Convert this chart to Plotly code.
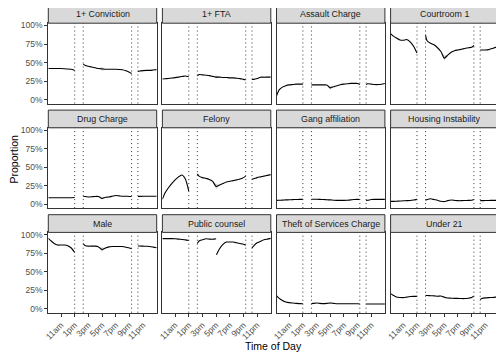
import plotly.graph_objects as go

# The page body has an 8px margin, so the figure is drawn 8px in from the window edge.
OFF = 8
W, H = 504 - OFF, 360 - OFF

panel_names = ["1+ Conviction", "1+ FTA", "Assault Charge", "Courtroom 1",
               "Drug Charge", "Felony", "Gang affiliation", "Housing Instability",
               "Male", "Public counsel", "Theft of Services Charge", "Under 21"]

hours_am = [9.14, 9.5, 10, 10.5, 11, 11.5, 12, 12.5, 13]
hours_pm = [14.25, 14.5, 15, 15.5, 16, 16.5, 17, 17.5, 18, 18.5, 19, 19.5, 20, 20.5, 21, 21.33]
hours_night = [22.25, 22.5, 23, 23.5, 24, 24.5, 25]
hours_pm_early = [14.25, 14.5, 15, 15.5, 16, 16.5, 17]
hours_pm_late = [17.05, 17.5, 18, 18.5, 19, 19.5, 20, 20.5, 21, 21.33]
break_hours = [13.0, 14.25, 21.33, 22.25]

x_tick_vals = [11, 13, 15, 17, 19, 21, 23]
x_tick_text = ["11am", "1pm", "3pm", "5pm", "7pm", "9pm", "11pm"]
y_tick_vals = [0, 25, 50, 75, 100]
y_tick_text = ["0%", "25%", "50%", "75%", "100%"]

conviction_am = [42, 42, 42, 42, 42, 41.8, 41.5, 41, 39.5]
conviction_pm = [48, 46.5, 45, 44, 43, 42, 41.5, 41, 41, 41, 41, 40.8, 40.5, 39, 37, 35.5]
conviction_night = [38, 38.7, 39.2, 39.5, 39.5, 40, 40.5]

fta_am = [28, 28.3, 28.7, 29.2, 29.8, 30.5, 31.3, 32, 31]
fta_pm = [32, 34, 33.5, 33, 32.5, 31.5, 30.5, 30.5, 30, 30, 29.5, 29.5, 29, 28.5, 27.5, 27]
fta_night = [27.5, 27.5, 28.5, 30.4, 30.4, 30.5, 30.5]

assault_am = [5, 13, 17, 19, 20, 20.5, 21, 21, 21]
assault_pm = [20, 20, 20, 20, 20, 19.8, 16, 17.5, 19, 20.3, 21, 21.5, 22, 22, 22, 20.5]
assault_night = [20.5, 21.5, 21, 20.5, 20.5, 21, 22]

courtroom_am = [89, 86, 83, 80.5, 80, 81, 78, 72, 63]
courtroom_pm = [87, 79, 76, 74, 70, 65, 56, 60, 64, 66, 67, 68, 69, 70, 70.5, 73]
courtroom_night = [67, 67, 67, 67.5, 69, 70.5, 71.5]

drug_am = [9, 9, 9, 9, 9, 9, 9, 9, 9.2]
drug_pm = [11, 10.5, 10, 10.3, 10.7, 10.5, 8, 9.5, 10, 11, 12, 11.5, 11, 11, 10.7, 10.7]
drug_night = [10.7, 10.8, 11, 11, 11, 11, 11]

felony_am = [7, 15, 22, 28, 33, 37, 39.5, 34, 18]
felony_pm = [41, 38, 36, 35, 33.5, 31, 24, 26, 28, 30, 31, 32, 33, 34, 36, 38]
felony_night = [34, 34.5, 36, 37, 38, 39, 40]

gang_am = [5.4, 5.5, 5.7, 6, 6.2, 6.4, 6.6, 6.7, 6.7]
gang_pm = [7, 7, 7, 6.8, 6.5, 6.2, 6, 5.6, 5.4, 5.4, 5.4, 5.6, 6, 6.5, 6.7, 6.5]
gang_night = [5.4, 5.6, 6.5, 6.7, 6.7, 6.7, 6.7]

housing_am = [4, 4, 4.2, 4.5, 4.8, 5, 5.2, 5.8, 6.7]
housing_pm = [5.4, 6.5, 7.5, 6.5, 5.5, 4.2, 3.8, 5, 5.8, 5.4, 5, 5, 5.2, 5.4, 5.6, 6.5]
housing_night = [5, 5, 5.2, 5.3, 5.4, 5.4, 5.4]

male_am = [95, 92, 88, 86, 86, 86, 85, 82, 76]
male_pm = [88, 85.5, 84.5, 84.5, 84.5, 83.5, 80, 82, 83.5, 84, 84, 84, 84, 83, 82, 81]
male_night = [84.7, 84.7, 84.5, 84.3, 84, 83.2, 82.4]

counsel_am = [94.6, 94.6, 94.6, 94.6, 94.4, 94, 93.5, 93, 92]
counsel_pm_early = [88, 91.5, 93, 94.5, 94, 93.8, 94.5]
counsel_pm_late = [73, 81, 87, 90, 90, 90, 89, 88, 87, 85.6]
counsel_night = [82, 85, 89, 91, 93, 94, 95]

theft_am = [18, 14.5, 11.5, 9.5, 8.5, 8, 7.5, 7.2, 7]
theft_pm = [7.2, 7.5, 8, 7.5, 7.2, 7.5, 8, 7.5, 7, 7, 7, 7, 7, 7, 7, 6.8]
theft_night = [6.8, 6.8, 6.8, 6.8, 6.8, 6.8, 6.8]

under21_am = [20.7, 18.5, 16, 15.5, 15.3, 16, 16.7, 17, 17]
under21_pm = [18.5, 18.2, 17.8, 17.6, 17.2, 17.5, 15.8, 14.8, 14.5, 14.3, 14.2, 14, 14, 14.5, 15.5, 17]
under21_night = [12.6, 14, 14.9, 15.3, 15.5, 16, 17]

# grey uncertainty wedge around 5pm (half-width, percentage points)
ribbon_hours = [16.5, 17.0, 17.5]
ribbon_halfwidth = [2.5, 2.0, 2.5, 3.5, 1.5, 3.5, 0.0, 0.0, 3.0, 0.0, 1.0, 1.5]

segments = [
    [(hours_am, conviction_am), (hours_pm, conviction_pm), (hours_night, conviction_night)],
    [(hours_am, fta_am), (hours_pm, fta_pm), (hours_night, fta_night)],
    [(hours_am, assault_am), (hours_pm, assault_pm), (hours_night, assault_night)],
    [(hours_am, courtroom_am), (hours_pm, courtroom_pm), (hours_night, courtroom_night)],
    [(hours_am, drug_am), (hours_pm, drug_pm), (hours_night, drug_night)],
    [(hours_am, felony_am), (hours_pm, felony_pm), (hours_night, felony_night)],
    [(hours_am, gang_am), (hours_pm, gang_pm), (hours_night, gang_night)],
    [(hours_am, housing_am), (hours_pm, housing_pm), (hours_night, housing_night)],
    [(hours_am, male_am), (hours_pm, male_pm), (hours_night, male_night)],
    [(hours_am, counsel_am), (hours_pm_early, counsel_pm_early),
     (hours_pm_late, counsel_pm_late), (hours_night, counsel_night)],
    [(hours_am, theft_am), (hours_pm, theft_pm), (hours_night, theft_night)],
    [(hours_am, under21_am), (hours_pm, under21_pm), (hours_night, under21_night)],
]

# layout geometry (window pixels, converted to figure pixels by OFF)
col_left0, col_w, col_step = 48.3 - OFF, 108.4, 114.1
row_top0, strip_h, panel_h, row_step = 5.5 - OFF, 17.7, 80.3, 104.6

fig = go.Figure()
layout = dict(width=W, height=H, margin=dict(l=0, r=0, t=0, b=0),
              paper_bgcolor="white", plot_bgcolor="white", showlegend=False,
              font=dict(family="Liberation Sans, Arial, sans-serif"))
shapes, annotations = [], []


def px(v):
    return min(1.0, max(0.0, v / W))


def py(v):
    return min(1.0, max(0.0, 1 - v / H))


for i, name in enumerate(panel_names):
    r, c = divmod(i, 4)
    left = col_left0 + c * col_step
    right = left + col_w
    stop = row_top0 + r * row_step
    sbot = stop + strip_h
    pbot = sbot + panel_h
    xa = "x" if i == 0 else f"x{i+1}"
    ya = "y" if i == 0 else f"y{i+1}"
    xkey = "xaxis" if i == 0 else f"xaxis{i+1}"
    ykey = "yaxis" if i == 0 else f"yaxis{i+1}"
    bottom_row = (r == 2)
    first_col = (c == 0)
    layout[xkey] = dict(domain=[px(left), px(right)], anchor=ya, range=[9.14, 25.0],
                        showline=True, mirror=True, linecolor="#333333", linewidth=1,
                        showgrid=False, zeroline=False, automargin=False,
                        tickvals=x_tick_vals, ticktext=x_tick_text,
                        showticklabels=bottom_row, ticks="outside" if bottom_row else "",
                        ticklen=3, tickwidth=1, tickcolor="#333333", tickangle=-45,
                        tickfont=dict(size=8.5, color="#4D4D4D"))
    layout[ykey] = dict(domain=[py(pbot), py(sbot)], anchor=xa, range=[-5, 103],
                        showline=True, mirror=True, linecolor="#333333", linewidth=1,
                        showgrid=False, zeroline=False, automargin=False,
                        tickvals=y_tick_vals, ticktext=y_tick_text,
                        showticklabels=first_col, ticks="outside" if first_col else "",
                        ticklen=3, tickwidth=1, tickcolor="#333333",
                        tickfont=dict(size=8.5, color="#4D4D4D"))
    shapes.append(dict(type="rect", xref="paper", yref="paper",
                       x0=left / W, x1=right / W, y0=1 - sbot / H, y1=1 - stop / H,
                       fillcolor="#D9D9D9", line=dict(color="#333333", width=1), layer="above"))
    annotations.append(dict(text=name, xref="paper", yref="paper",
                            x=(left + right) / 2 / W, y=1 - (stop + sbot) / 2 / H,
                            xanchor="center", yanchor="middle", showarrow=False,
                            font=dict(size=8.9, color="#1A1A1A")))
    for bh in break_hours:
        shapes.append(dict(type="line", xref=xa, yref=f"{ya} domain", x0=bh, x1=bh, y0=0, y1=1,
                           line=dict(color="#333333", width=1, dash="1px,3px"), layer="above"))

    # grey wedge from the afternoon segment's own values
    hw = ribbon_halfwidth[i]
    if hw > 0:
        pm_h, pm_v = segments[i][1]
        centre = [pm_v[pm_h.index(h)] for h in ribbon_hours]
        widths = [0.0, hw, 0.0]
        upper = [v + w for v, w in zip(centre, widths)]
        lower = [v - w for v, w in zip(centre, widths)]
        fig.add_trace(go.Scatter(x=ribbon_hours + ribbon_hours[::-1], y=upper + lower[::-1],
                                 mode="lines", fill="toself", fillcolor="rgba(160,160,160,0.55)",
                                 line=dict(width=0), xaxis=xa, yaxis=ya, hoverinfo="skip"))

    for hrs, vals in segments[i]:
        fig.add_trace(go.Scatter(x=hrs, y=vals, mode="lines", xaxis=xa, yaxis=ya,
                                 line=dict(color="black", width=1.1, shape="spline", smoothing=0.6),
                                 hoverinfo="skip"))

annotations.append(dict(text="Proportion", xref="paper", yref="paper", x=(13.5 - OFF) / W, y=1 - (159 - OFF) / H,
                        textangle=-90, showarrow=False, xanchor="center", yanchor="middle",
                        font=dict(size=10.5, color="black")))
annotations.append(dict(text="Time of Day", xref="paper", yref="paper", x=(273.6 - OFF) / W, y=1 - (346 - OFF) / H,
                        showarrow=False, xanchor="center", yanchor="middle",
                        font=dict(size=10.5, color="black")))
layout["shapes"] = shapes
layout["annotations"] = annotations
fig.update_layout(**layout)
fig.write_html("out.html")
